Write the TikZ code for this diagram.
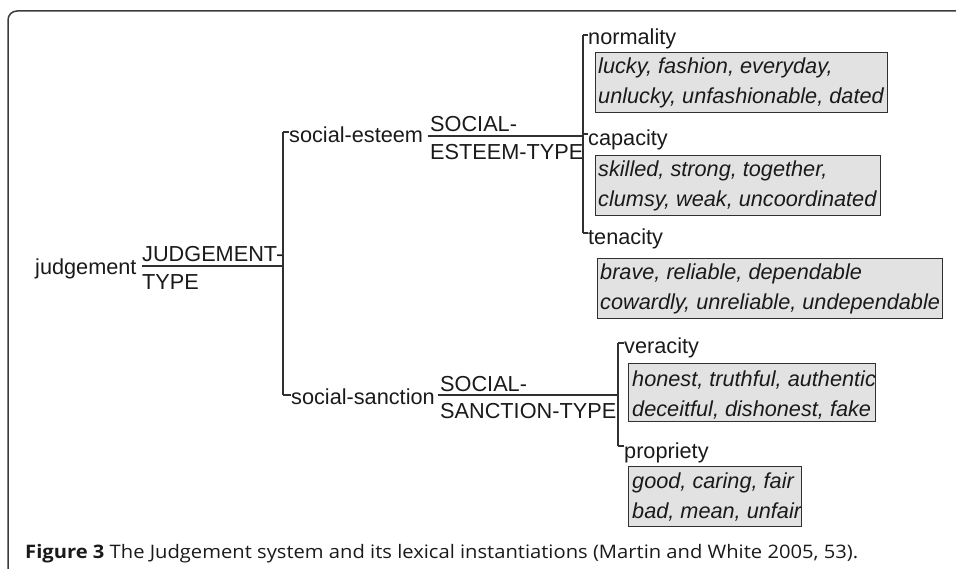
\documentclass[tikz,border=0pt]{standalone}
\usepackage{fontspec}
\usepackage{graphicx}
\setmainfont{Liberation Sans}
\newfontfamily\capfont{Open Sans}
\definecolor{ink}{HTML}{1A1A1A}
\definecolor{edge}{HTML}{303030}
\definecolor{boxfill}{HTML}{E2E2E2}
\definecolor{framecol}{HTML}{3C3C3C}
\newcommand{\twolines}[2]{\begin{tabular}[t]{@{}l@{}}#1\\#2\end{tabular}}
\begin{document}
\begin{tikzpicture}[x=1pt,y=-1pt,
  lbl/.style={inner sep=0pt, anchor=base west, text=ink,
    font=\fontsize{21.7}{28}\selectfont},
  words/.style={inner sep=0pt, anchor=base west, text=ink,
    font=\fontsize{21.7}{30}\selectfont\itshape},
  wordbox/.style={draw=edge, line width=1.4pt, fill=boxfill, inner sep=0pt,
    anchor=north west},
  tree/.style={draw=edge, line width=1.4pt}]
\useasboundingbox (0,0) rectangle (956,569);

% outer frame, open to the right and bottom
\draw[framecol, line width=1.5pt, rounded corners=9pt] (975,11) -- (8,11) -- (8,590);

% ---- first level ----
\node[lbl] (judg) at (35,275) {judgement};
\node[lbl] (jtype) at (142,262) {\twolines{JUDGEMENT-}{TYPE}};
\coordinate (jl) at (142,266);
\coordinate (jfork) at (283,266);
\draw[tree] (jl) -- (jfork);

\coordinate (seF) at (283,132);
\coordinate (ssF) at (283,395);
\draw[tree] (seF) -- (ssF);

% ---- social esteem branch ----
\node[lbl] (se) at (289,143) {social-esteem};
\draw[tree] (seF) -- (se.west |- seF);
\node[lbl] (setype) at (430,132) {\twolines{SOCIAL-}{ESTEEM-TYPE}};
\coordinate (sel) at (428,136);
\coordinate (seR) at (583,136);
\draw[tree] (sel) -- (seR);

\coordinate (normF) at (583,35);
\coordinate (capF) at (583,134);
\coordinate (tenF) at (583,233);
\draw[tree] (normF) -- (tenF);

\node[lbl] (norm) at (588,45) {normality};
\node[lbl] (cap) at (588,146) {capacity};
\node[lbl] (ten) at (588,245) {tenacity};
\draw[tree] (normF) -- (norm.west |- normF);
\draw[tree] (capF) -- (cap.west |- capF);
\draw[tree] (tenF) -- (ten.west |- tenF);

\node[wordbox, minimum width=292pt, minimum height=60pt] (b1) at (595,52) {};
\node[words] (w1) at (598,74) {\twolines{lucky, fashion, everyday,}{unlucky, unfashionable, dated}};
\node[wordbox, minimum width=285pt, minimum height=60pt] (b2) at (595,155) {};
\node[words] (w2) at (598,177) {\twolines{skilled, strong, together,}{clumsy, weak, uncoordinated}};
\node[wordbox, minimum width=345pt, minimum height=60pt] (b3) at (597,258) {};
\node[words] (w3) at (600,280) {\twolines{brave, reliable, dependable}{cowardly, unreliable, undependable}};

% ---- social sanction branch ----
\node[lbl] (ss) at (291,404) {social-sanction};
\draw[tree] (ssF) -- (ss.west |- ssF);
\node[lbl] (sstype) at (440,391) {\twolines{SOCIAL-}{SANCTION-TYPE}};
\coordinate (ssl) at (438,395);
\coordinate (ssR) at (618,395);
\draw[tree] (ssl) -- (ssR);

\coordinate (verF) at (618,343);
\coordinate (proF) at (618,446);
\draw[tree] (verF) -- (proF);

\node[lbl] (ver) at (624,353) {veracity};
\node[lbl] (pro) at (624,458) {propriety};
\draw[tree] (verF) -- (ver.west |- verF);
\draw[tree] (proF) -- (pro.west |- proF);

\node[wordbox, minimum width=247pt, minimum height=58pt] (b4) at (628,363) {};
\node[words] (w4) at (632,386) {\twolines{honest, truthful, authentic}{deceitful, dishonest, fake}};
\node[wordbox, minimum width=173pt, minimum height=60pt] (b5) at (628,466) {};
\node[words] (w5) at (632,488) {\twolines{good, caring, fair}{bad, mean, unfair}};

% ---- caption ----
\node[inner sep=0pt, anchor=base west, text=ink] (caption) at (25,558)
  {\resizebox{833pt}{\height}{\capfont\fontsize{18.6}{22}\selectfont
   \textbf{Figure 3} The Judgement system and its lexical instantiations (Martin and White 2005, 53).}};
\end{tikzpicture}
\end{document}
